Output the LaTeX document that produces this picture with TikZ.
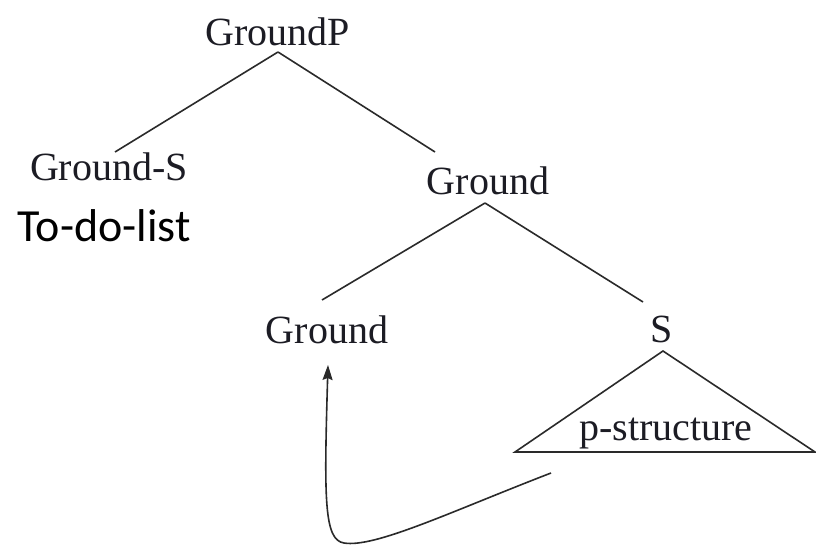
\documentclass[tikz,border=0pt]{standalone}
\usepackage{fontspec}
\setmainfont{Liberation Serif}
\newfontfamily\labelsans{Carlito}
\usetikzlibrary{arrows.meta}
\definecolor{ink}{HTML}{1C1C24}
\definecolor{branch}{HTML}{2A2A2A}
\begin{document}
\begin{tikzpicture}[x=1pt,y=-1pt,
  cat/.style={inner sep=0pt, anchor=base, text=ink, font=\fontsize{40}{40}\selectfont},
  note/.style={inner sep=0pt, anchor=base, text=black, font=\labelsans\fontsize{46}{46}\selectfont},
  edge/.style={draw=branch, line width=1.6pt},
  move/.style={draw=branch, line width=1.6pt, -{Stealth[length=15pt,width=10pt,inset=2pt]}}
]
\useasboundingbox[fill=white] (0,0) rectangle (816,545);

% tree labels
\node[cat] (gp) at (278,46) {GroundP};
\node[cat] (gs) at (109,181) {Ground-S};
\node[cat] (g1) at (488,195) {Ground};
\node[note] (todo) at (104,242) {To-do-list};
\node[cat] (g2) at (327,343) {Ground};
\node[cat] (s)  at (662,342) {S};

% branch end points
\coordinate (gp-foot) at (278,52);
\coordinate (gs-top)  at (115,152);
\coordinate (g1-top)  at (435,152);
\coordinate (g1-foot) at (485,203);
\coordinate (g2-top)  at (322,300);
\coordinate (s-top)   at (643,302);

\draw[edge] (gp-foot) -- (gs-top);
\draw[edge] (gp-foot) -- (g1-top);
\draw[edge] (g1-foot) -- (g2-top);
\draw[edge] (g1-foot) -- (s-top);

% triangle under S
\coordinate (tri-apex)  at (663,351);
\coordinate (tri-left)  at (515,452);
\coordinate (tri-right) at (815,452);
\draw[edge, line join=miter] (tri-left) -- (tri-apex) -- (tri-right) -- cycle;
\node[cat] (ps) at (666,440) {p-structure};

% movement arrow
\coordinate (mv-start) at (551,473);
\coordinate (mv-low)   at (344,543);
\coordinate (mv-tip)   at (328,365);
\draw[move] (mv-start) .. controls (450,512) and (375,548) .. (mv-low)
            .. controls (324,540) and (324,500) .. (mv-tip);
\end{tikzpicture}
\end{document}
